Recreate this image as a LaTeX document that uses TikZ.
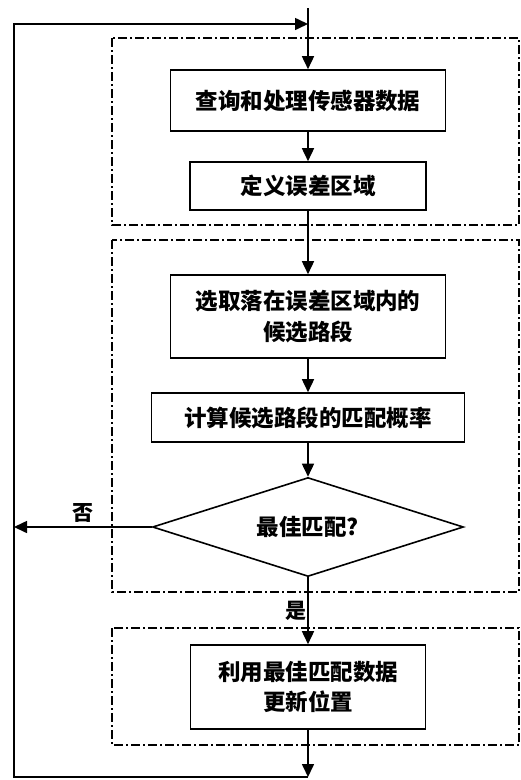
\documentclass[tikz,border=0pt]{standalone}
\usepackage{fontspec}
\newfontfamily\cjk{Noto Sans CJK SC}
\usetikzlibrary{arrows.meta,shapes.geometric}
\begin{document}
\begin{tikzpicture}[x=1pt,y=-1pt,
  proc/.style={draw,line width=1.6pt,inner sep=0pt,align=center,
    font=\cjk\bfseries\fontsize{22.5}{30.5}\selectfont},
  arr/.style={line width=1.6pt,-{Triangle[length=13pt,width=12pt]}},
  ln/.style={line width=1.6pt},
  zone/.style={line width=1.3pt,dash pattern=on 9pt off 3pt on 2pt off 3pt},
  lbl/.style={font=\cjk\bfseries\fontsize{21}{24}\selectfont}]
\useasboundingbox (0,0) rectangle (521,780);
% dash-dot zones
\draw[zone] (112,38) rectangle (519,225);
\draw[zone] (112,240) rectangle (519,592);
\draw[zone] (112,628) rectangle (519,745);
% process nodes
\node[proc,minimum width=275pt,minimum height=61pt] (b1) at (308,100.5) {查询和处理传感器数据};
\node[proc,minimum width=236pt,minimum height=48pt] (b2) at (308,186) {定义误差区域};
\node[proc,minimum width=275pt,minimum height=83pt] (b3) at (308,316.5) {选取落在误差区域内的\\候选路段};
\node[proc,minimum width=313pt,minimum height=49pt] (b4) at (308,417.5) {计算候选路段的匹配概率};
\node[proc,shape=diamond,aspect=3.14,minimum width=311pt,minimum height=99pt] (d) at (308,527) {最佳匹配?};
\node[proc,minimum width=235pt,minimum height=84pt] (b5) at (308,687) {利用最佳匹配数据\\更新位置};
% coordinates
\coordinate (top) at (308,8);
\coordinate (tj) at (308,24);
\coordinate (tl) at (14,24);
\coordinate (bot) at (308,777);
\coordinate (bl) at (14,777);
\coordinate (lj) at (14,527);
% connectors
\draw[ln] (top) -- (tj);
\draw[arr] (tj) -- (b1);
\draw[arr] (b1) -- (b2);
\draw[arr] (b2) -- (b3);
\draw[arr] (b3) -- (b4);
\draw[arr] (b4) -- (d);
\draw[arr] (d) -- node[lbl,left,inner sep=1pt] {是} (b5);
\draw[arr] (b5) -- (bot);
\draw[arr] (bot) -- (bl) -- (tl) -- (tj);
\draw[arr] (d.west) -- node[lbl,above,inner sep=4pt] {否} (lj);
\end{tikzpicture}
\end{document}
